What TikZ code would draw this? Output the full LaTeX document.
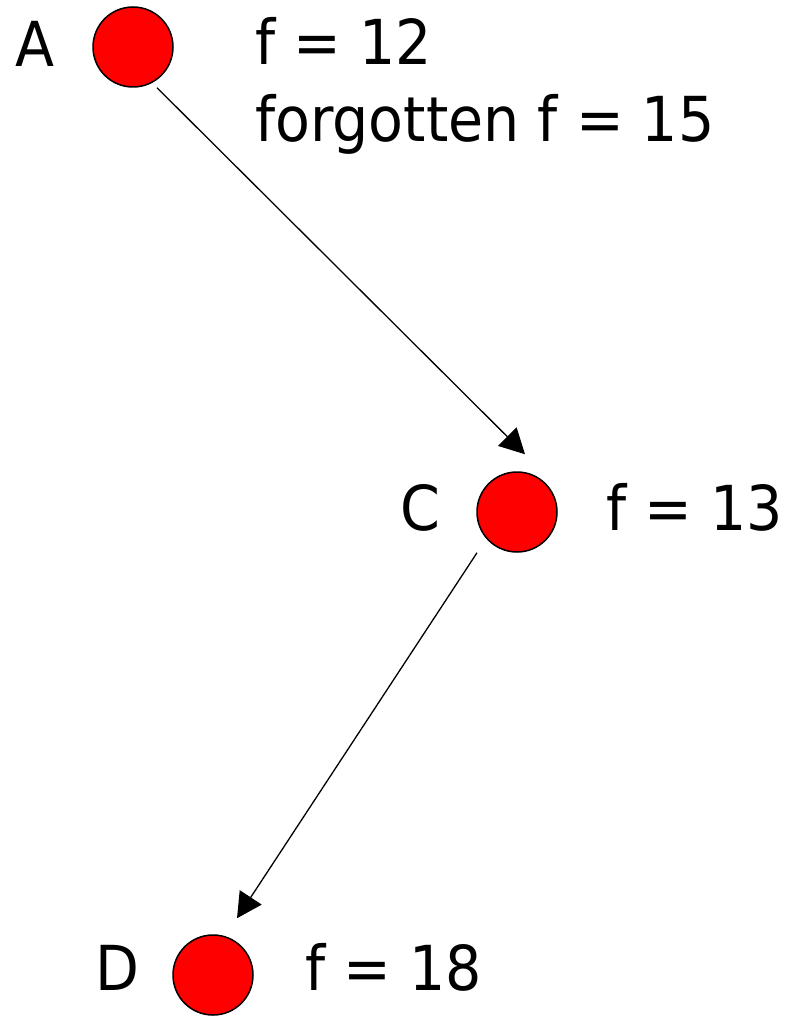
\documentclass[tikz,border=0pt]{standalone}
\usepackage{fontspec}
\setmainfont[FakeStretch=0.92]{DejaVu Sans}
\usetikzlibrary{arrows.meta}

\begin{document}
\begin{tikzpicture}[>={Triangle[length=25pt,width=26pt]},x=1pt,y=-1pt,
 state/.style={draw,circle,line width=1.5pt,fill=red,minimum size=80pt,inner sep=0pt},
 lab/.style={font=\fontsize{62}{77}\selectfont,inner sep=0pt,anchor=base west},
 edge/.style={->,line width=1.3pt}]
\useasboundingbox (0,0) rectangle (790,1016);
\node[state] (a) at (133,47) {};
\node[state] (c) at (517,512) {};
\node[state] (d) at (213,975) {};
\node[lab] (la) at (15,67) {A};
\node[lab] (lc) at (400,530) {C};
\node[lab] (ld) at (95,990) {D};
\node[lab] (fa) at (255,65) {f = 12};
\node[lab] (ga) at (255,142) {forgotten f = 15};
\node[lab] (fc) at (606,530) {f = 13};
\node[lab] (fd) at (305,990) {f = 18};
\draw[edge] ([xshift=24pt]a.south) -- ([xshift=8pt,yshift=17pt]c.north);
\draw[edge] ([xshift=-40pt]c.south) -- ([xshift=24pt,yshift=16pt]d.north);
\end{tikzpicture}
\end{document}
